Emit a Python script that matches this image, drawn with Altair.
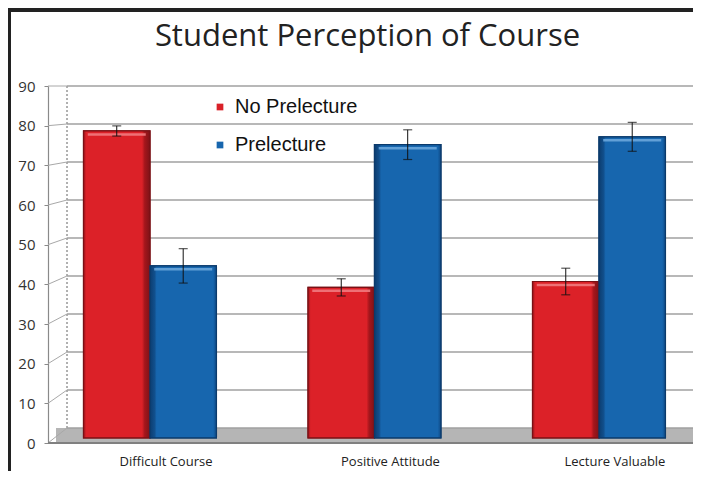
import altair as alt
import pandas as pd

# ---------------- data ----------------
categories = ["Difficult Course", "Positive Attitude", "Lecture Valuable"]
series = ["No Prelecture", "Prelecture"]
no_prelecture = [78.5, 38.5, 40.0]
prelecture = [44.0, 75.0, 77.0]
no_prelecture_err = [1.3, 2.2, 3.4]
prelecture_err = [4.4, 3.8, 3.7]
y_ticks = [0, 10, 20, 30, 40, 50, 60, 70, 80, 90]

colors = ["#d92128", "#1766ae"]
edge_colors = ["#7a1015", "#0b3a6b"]
shade_stops = [
    [{"offset": 0, "color": "#9a161c"}, {"offset": 0.04, "color": "#dc2128"},
     {"offset": 0.88, "color": "#dc2128"}, {"offset": 0.92, "color": "#a5161c"},
     {"offset": 1, "color": "#7e1217"}],
    [{"offset": 0, "color": "#0c3d70"}, {"offset": 0.07, "color": "#114f8c"},
     {"offset": 0.1, "color": "#1766ae"}, {"offset": 0.95, "color": "#1766ae"},
     {"offset": 1, "color": "#0f4a86"}],
]
highlight = ["#ef7a7e", "#6aa6dc"]

rows = []
for i, c in enumerate(categories):
    rows.append(dict(category=c, series=series[0], value=no_prelecture[i], err=no_prelecture_err[i]))
    rows.append(dict(category=c, series=series[1], value=prelecture[i], err=prelecture_err[i]))
df = pd.DataFrame(rows)
df["lo"] = df["value"] - df["err"]
df["hi"] = df["value"] + df["err"]
ticks_df = pd.DataFrame({"v": y_ticks})

W = 645
H = 357
BACK = 19   # depth offset of back wall (px)
EXT = 20    # lines run on to the svg's right edge

bar_scale = alt.Scale(domain=[-1.3, 90], nice=False, zero=False)
front_scale = alt.Scale(domain=[0, 90], nice=False)
back_scale = alt.Scale(domain=[-3.95, 90], nice=False, zero=False)

x_enc = alt.X(
    "category:N",
    sort=categories,
    title=None,
    scale=alt.Scale(paddingInner=0.408, paddingOuter=0.1405, align=0.563),
    axis=alt.Axis(
        domain=False, ticks=False, labelAngle=0, labelOffset=16,
        labelFont="Open Sans", labelFontSize=13, labelColor="#222",
        labelPadding=12,
    ),
)
x_plain = alt.X("category:N", sort=categories)
xoff = alt.XOffset("series:N", sort=series, scale=alt.Scale(paddingInner=0, paddingOuter=0))

# floor
floor = alt.Chart(ticks_df).mark_rect(color="#b5b5b5").encode(
    x=alt.value(8), x2=alt.value(W + EXT), y=alt.value(H - 15), y2=alt.value(H)
)
floor_edge = alt.Chart(ticks_df).mark_rule(color="#808080", strokeWidth=1.5).encode(
    x=alt.value(0), x2=alt.value(W + EXT), y=alt.value(H)
)
back_wall = alt.Chart(ticks_df).mark_rule(color="#b0b0b0", strokeWidth=1, strokeDash=[2, 2]).encode(
    x=alt.value(BACK), y=alt.value(0), y2=alt.value(H - 15)
)

# back-wall gridlines
grid = alt.Chart(ticks_df).mark_rule(color="#a0a0a0", strokeWidth=1.6).encode(
    y=alt.Y("v:Q", scale=back_scale, axis=None),
    x=alt.value(BACK), x2=alt.value(W + EXT),
)

# side connectors + front axis
side = alt.Chart(ticks_df).transform_calculate(
    vb="datum.v + 3.78 - 0.042 * datum.v"
).mark_rule(color="#a8a8a8", strokeWidth=1).encode(
    y=alt.Y(
        "v:Q", scale=front_scale, title=None,
        axis=alt.Axis(
            values=y_ticks, grid=False, domainColor="#8a8a8a", domainWidth=1.2,
            tickColor="#8a8a8a", tickSize=4, labelPadding=9,
            labelFont="Open Sans", labelFontSize=15, labelColor="#333",
        ),
    ),
    y2="vb:Q",
    x=alt.value(0), x2=alt.value(BACK),
)

bars = alt.Chart(df).mark_bar(strokeWidth=1.2).encode(
    x=x_enc,
    xOffset=xoff,
    y=alt.Y("value:Q", scale=bar_scale, axis=None),
    y2=alt.datum(0),
    color=alt.Color(
        "series:N", sort=series,
        scale=alt.Scale(domain=series, range=colors),
        legend=alt.Legend(
            title=None, orient="none", legendX=157, legendY=6,
            symbolType="square", symbolSize=45, symbolStrokeWidth=0,
            labelFont="Liberation Sans", labelFontSize=20, labelColor="#111",
            rowPadding=18, labelOffset=5, padding=5,
        ),
    ),
    stroke=alt.Stroke("series:N", sort=series,
                      scale=alt.Scale(domain=series, range=edge_colors), legend=None),
)

shaded = []
for s, stops, hl, ec in zip(series, shade_stops, highlight, edge_colors):
    base = alt.Chart(df).transform_filter(alt.datum.series == s)
    shaded.append(
        base.mark_bar(
            color={"gradient": "linear", "x1": 0, "x2": 1, "y1": 0, "y2": 0, "stops": stops},
            stroke=ec, strokeWidth=1.2,
        ).encode(
            x=x_plain, xOffset=xoff,
            y=alt.Y("value:Q", scale=bar_scale, axis=None),
            y2=alt.datum(0),
        )
    )
    shaded.append(
        base.mark_tick(color=hl, thickness=2.5, size=58, yOffset=3.5, opacity=0.9).encode(
            x=x_plain, xOffset=xoff,
            y=alt.Y("value:Q", scale=bar_scale, axis=None),
        )
    )

err_rule = alt.Chart(df).mark_rule(color="#111", strokeWidth=1).encode(
    x=x_plain, xOffset=xoff,
    y=alt.Y("lo:Q", scale=bar_scale, axis=None),
    y2="hi:Q",
)
cap_lo = alt.Chart(df).mark_tick(color="#111", thickness=1.2, size=9).encode(
    x=x_plain, xOffset=xoff,
    y=alt.Y("lo:Q", scale=bar_scale, axis=None),
)
cap_hi = alt.Chart(df).mark_tick(color="#111", thickness=1.2, size=9).encode(
    x=x_plain, xOffset=xoff,
    y=alt.Y("hi:Q", scale=bar_scale, axis=None),
)

frame_top = alt.Chart(ticks_df).mark_rule(color="#222", strokeWidth=3).encode(
    x=alt.value(-41), x2=alt.value(W + EXT), y=alt.value(-76)
)
frame_left = alt.Chart(ticks_df).mark_rule(color="#222", strokeWidth=3).encode(
    x=alt.value(-39), y=alt.value(-76), y2=alt.value(H + 60)
)

chart = alt.layer(
    floor, back_wall, grid, side, floor_edge, bars, *shaded, err_rule, cap_lo, cap_hi,
    frame_top, frame_left
).resolve_scale(y="independent").properties(
    width=W, height=H,
    autosize=alt.AutoSizeParams(type="none"),
    padding={"left": 40, "top": 78, "right": 0, "bottom": 28},
    title=alt.TitleParams(
        "Student Perception of Course", font="Open Sans", fontSize=31,
        fontWeight="normal", color="#222", anchor="middle", offset=0, dy=44, dx=-3,
    ),
).configure_view(stroke=None)

chart.save("out.html", embed_options={"renderer": "svg", "actions": False})
